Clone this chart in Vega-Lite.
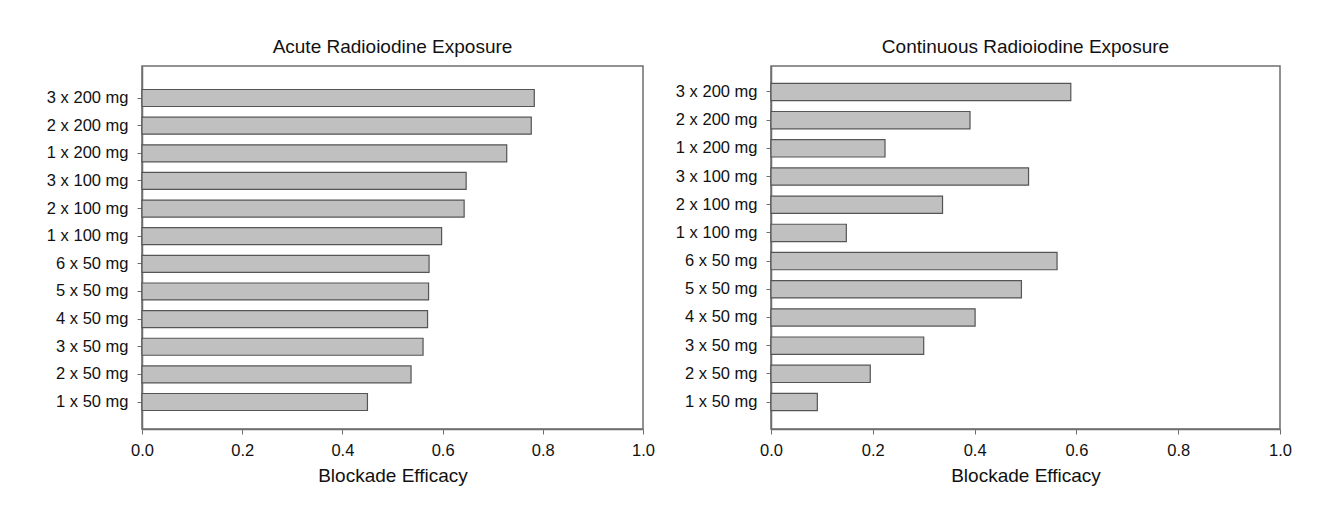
{
  "$schema": "https://vega.github.io/schema/vega-lite/v6.json",
  "background": "white",
  "padding": {"left": 41, "top": 37, "right": 0, "bottom": 0},
  "spacing": 14,
  "config": {
    "font": "Liberation Sans",
    "view": {"stroke": "#6e6e6e", "strokeWidth": 1.5},
    "axis": {
      "grid": false,
      "domainColor": "#6e6e6e",
      "domainWidth": 1.5,
      "tickColor": "#6e6e6e",
      "tickSize": 5,
      "labelColor": "#111111",
      "titleColor": "#111111",
      "labelFontSize": 16.5,
      "titleFontSize": 19,
      "titleFontWeight": "normal",
      "labelFlush": false,
      "labelOverlap": false
    },
    "title": {"fontSize": 19, "fontWeight": "normal", "color": "#111111"}
  },
  "datasets": {
    "acute": [
      {"dose": "3 x 200 mg", "efficacy": 0.783},
      {"dose": "2 x 200 mg", "efficacy": 0.777},
      {"dose": "1 x 200 mg", "efficacy": 0.728},
      {"dose": "3 x 100 mg", "efficacy": 0.647},
      {"dose": "2 x 100 mg", "efficacy": 0.643},
      {"dose": "1 x 100 mg", "efficacy": 0.598},
      {"dose": "6 x 50 mg", "efficacy": 0.573},
      {"dose": "5 x 50 mg", "efficacy": 0.572},
      {"dose": "4 x 50 mg", "efficacy": 0.570},
      {"dose": "3 x 50 mg", "efficacy": 0.561},
      {"dose": "2 x 50 mg", "efficacy": 0.537},
      {"dose": "1 x 50 mg", "efficacy": 0.450}
    ],
    "continuous": [
      {"dose": "3 x 200 mg", "efficacy": 0.589},
      {"dose": "2 x 200 mg", "efficacy": 0.391},
      {"dose": "1 x 200 mg", "efficacy": 0.224},
      {"dose": "3 x 100 mg", "efficacy": 0.506},
      {"dose": "2 x 100 mg", "efficacy": 0.337},
      {"dose": "1 x 100 mg", "efficacy": 0.148},
      {"dose": "6 x 50 mg", "efficacy": 0.562},
      {"dose": "5 x 50 mg", "efficacy": 0.492},
      {"dose": "4 x 50 mg", "efficacy": 0.401},
      {"dose": "3 x 50 mg", "efficacy": 0.300},
      {"dose": "2 x 50 mg", "efficacy": 0.195},
      {"dose": "1 x 50 mg", "efficacy": 0.091}
    ]
  },
  "hconcat": [
    {
      "title": {"text": "Acute Radioiodine Exposure", "offset": 9},
      "data": {"name": "acute"},
      "width": 501,
      "height": 363,
      "mark": {"type": "bar", "fill": "#c0c0c0", "stroke": "#555555", "strokeWidth": 1.2},
      "encoding": {
        "y": {
          "field": "dose", "type": "nominal",
          "sort": ["3 x 200 mg", "2 x 200 mg", "1 x 200 mg", "3 x 100 mg", "2 x 100 mg", "1 x 100 mg", "6 x 50 mg", "5 x 50 mg", "4 x 50 mg", "3 x 50 mg", "2 x 50 mg", "1 x 50 mg"],
          "scale": {"paddingInner": 0.385, "paddingOuter": 0.76, "align": 0.56},
          "axis": {"title": null, "labelPadding": 9, "minExtent": 100, "maxExtent": 100}
        },
        "x": {
          "field": "efficacy", "type": "quantitative",
          "scale": {"domain": [0, 1], "nice": false},
          "axis": {"title": "Blockade Efficacy", "values": [0, 0.2, 0.4, 0.6, 0.8, 1.0], "format": ".1f", "labelPadding": 8, "titlePadding": 8}
        }
      }
    },
    {
      "title": {"text": "Continuous Radioiodine Exposure", "offset": 9},
      "data": {"name": "continuous"},
      "width": 509,
      "height": 363,
      "mark": {"type": "bar", "fill": "#c0c0c0", "stroke": "#555555", "strokeWidth": 1.2},
      "encoding": {
        "y": {
          "field": "dose", "type": "nominal",
          "sort": ["3 x 200 mg", "2 x 200 mg", "1 x 200 mg", "3 x 100 mg", "2 x 100 mg", "1 x 100 mg", "6 x 50 mg", "5 x 50 mg", "4 x 50 mg", "3 x 50 mg", "2 x 50 mg", "1 x 50 mg"],
          "scale": {"paddingInner": 0.386, "paddingOuter": 0.633, "align": 0.486},
          "axis": {"title": null, "labelPadding": 9, "minExtent": 100, "maxExtent": 100}
        },
        "x": {
          "field": "efficacy", "type": "quantitative",
          "scale": {"domain": [0, 1], "nice": false},
          "axis": {"title": "Blockade Efficacy", "values": [0, 0.2, 0.4, 0.6, 0.8, 1.0], "format": ".1f", "labelPadding": 8, "titlePadding": 8}
        }
      }
    }
  ]
}
